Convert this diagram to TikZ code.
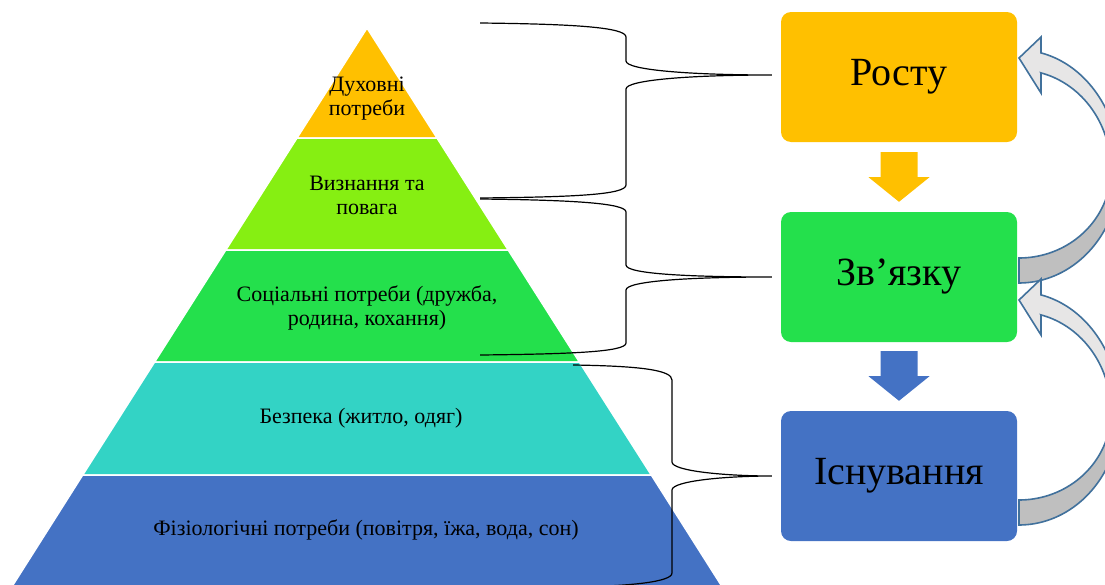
\documentclass[tikz,border=0pt]{standalone}
\usepackage{fontspec}
\setmainfont{Liberation Serif}
\usetikzlibrary{calc}
\definecolor{cOrange}{HTML}{FFC000}
\definecolor{cLime}{HTML}{86EF12}
\definecolor{cGreen}{HTML}{24E04C}
\definecolor{cTeal}{HTML}{33D3C5}
\definecolor{cBlue}{HTML}{4472C4}
\definecolor{cEdge}{HTML}{41719C}
\definecolor{cLight}{HTML}{E7E6E6}
\definecolor{cDark}{HTML}{BFBFBF}
\begin{document}
\begin{tikzpicture}[x=1pt,y=-1pt,
  layer/.style={draw=white,line width=1.5pt,line join=round},
  layertext/.style={font=\fontsize{22}{24}\selectfont,align=center,text=black,inner sep=0pt},
  stage/.style={rounded corners=10pt,minimum width=236pt,minimum height=130pt,
    font=\fontsize{40}{48}\selectfont,inner sep=0pt,text=black},
  brace/.style={draw=black,line width=1.2pt},
  loopshape/.style={draw=cEdge,line width=1.6pt,line join=miter},
  loopback/.pic={
    % back face of the curved arrow
    \path[loopshape,fill=cDark]
      plot[domain=0:90,samples=40] ({1019+92*cos(\x)},{170+88*sin(\x)})
      -- plot[domain=90:0,samples=40] ({1019+101*cos(\x)},{170+113*sin(\x)})
      -- cycle;
    % front face with the head
    \path[loopshape,fill=cLight]
      (1041,37) -- (1019,58) -- (1041,93) -- (1041,73)
      -- plot[domain=-76.2:0,samples=40] ({1019+92*cos(\x)},{170+100*sin(\x)})
      -- plot[domain=0:-77.4,samples=40] ({1019+101*cos(\x)},{170+120*sin(\x)})
      -- cycle;
  }]
\useasboundingbox (0,0) rectangle (1105,584);

% pyramid layers
\path[layer,fill=cOrange] (367,28) -- (437.0,138) -- (297.0,138) -- cycle;
\path[layer,fill=cLime] (297.0,138) -- (437.0,138) -- (508.2,250) -- (225.8,250) -- cycle;
\path[layer,fill=cGreen] (225.8,250) -- (508.2,250) -- (579.4,362) -- (154.6,362) -- cycle;
\path[layer,fill=cTeal] (154.6,362) -- (579.4,362) -- (651.3,475) -- (82.7,475) -- cycle;
\path[layer,fill=cBlue] (82.7,475) -- (651.3,475) -- (722.3,587) -- (11.7,587) -- cycle;

% layer captions
\node[layertext] (t1) at (367,99) {Духовні\\потреби};
\node[layertext] (t2) at (367,195) {Визнання та\\повага};
\node[layertext] (t3) at (367,308) {Соціальні потреби (дружба,\\родина, кохання)};
\node[layertext] (t4) at (361,418) {Безпека (житло, одяг)};
\node[layertext] (t5) at (366,530) {Фізіологічні потреби (повітря, їжа, вода, сон)};

% stages
\node[stage,fill=cOrange] (grow) at (899,77) {Росту};
\node[stage,fill=cGreen] (link) at (899,277) {Зв’язку};
\node[stage,fill=cBlue] (exist) at (899,476) {Існування};

% block arrows between stages
\fill[cOrange] ($(grow.south)+(-18.5,10)$) -- ($(grow.south)+(18.5,10)$)
  -- ($(grow.south)+(18.5,35)$) -- ($(grow.south)+(30.5,35)$)
  -- ($(link.north)+(0,-10)$)
  -- ($(grow.south)+(-30.5,35)$) -- ($(grow.south)+(-18.5,35)$) -- cycle;
\fill[cBlue] ($(link.south)+(-18.5,9)$) -- ($(link.south)+(18.5,9)$)
  -- ($(link.south)+(18.5,34)$) -- ($(link.south)+(30.5,34)$)
  -- ($(exist.north)+(0,-10)$)
  -- ($(link.south)+(-30.5,34)$) -- ($(link.south)+(-18.5,34)$) -- cycle;

% curved return arrows
\pic at (0,0) {loopback};
\pic at (0,242) {loopback};

% braces
\coordinate (b1a) at (480,23);
\coordinate (b1b) at (480,198);
\coordinate (b1tip) at ($(grow.west)+(-9,-2)$);
\coordinate (b2a) at (480,199);
\coordinate (b2b) at (480,355);
\coordinate (b2tip) at ($(link.west)+(-9,0)$);
\coordinate (b3a) at (573,365);
\coordinate (b3b) at (575,587);
\coordinate (b3tip) at ($(exist.west)+(-9,0)$);

\draw[brace] (b1a) .. controls (570,24) and (626,27) .. (626,37) -- (626,61)
  .. controls (626,70) and (690,75) .. (b1tip)
  .. controls (690,75) and (626,80) .. (626,89) -- (626,185)
  .. controls (626,195) and (570,197) .. (b1b);
\draw[brace] (b2a) .. controls (570,200) and (626,203) .. (626,212) -- (626,265)
  .. controls (626,274) and (690,277) .. (b2tip)
  .. controls (690,277) and (626,281) .. (626,290) -- (626,343)
  .. controls (626,352) and (570,354) .. (b2b);
\draw[brace] (b3a) .. controls (640,366) and (672,370) .. (672,380) -- (672,462)
  .. controls (672,471) and (725,476) .. (b3tip)
  .. controls (725,476) and (672,481) .. (672,490) -- (672,573)
  .. controls (672,582) and (630,586) .. (b3b);
\end{tikzpicture}
\end{document}
